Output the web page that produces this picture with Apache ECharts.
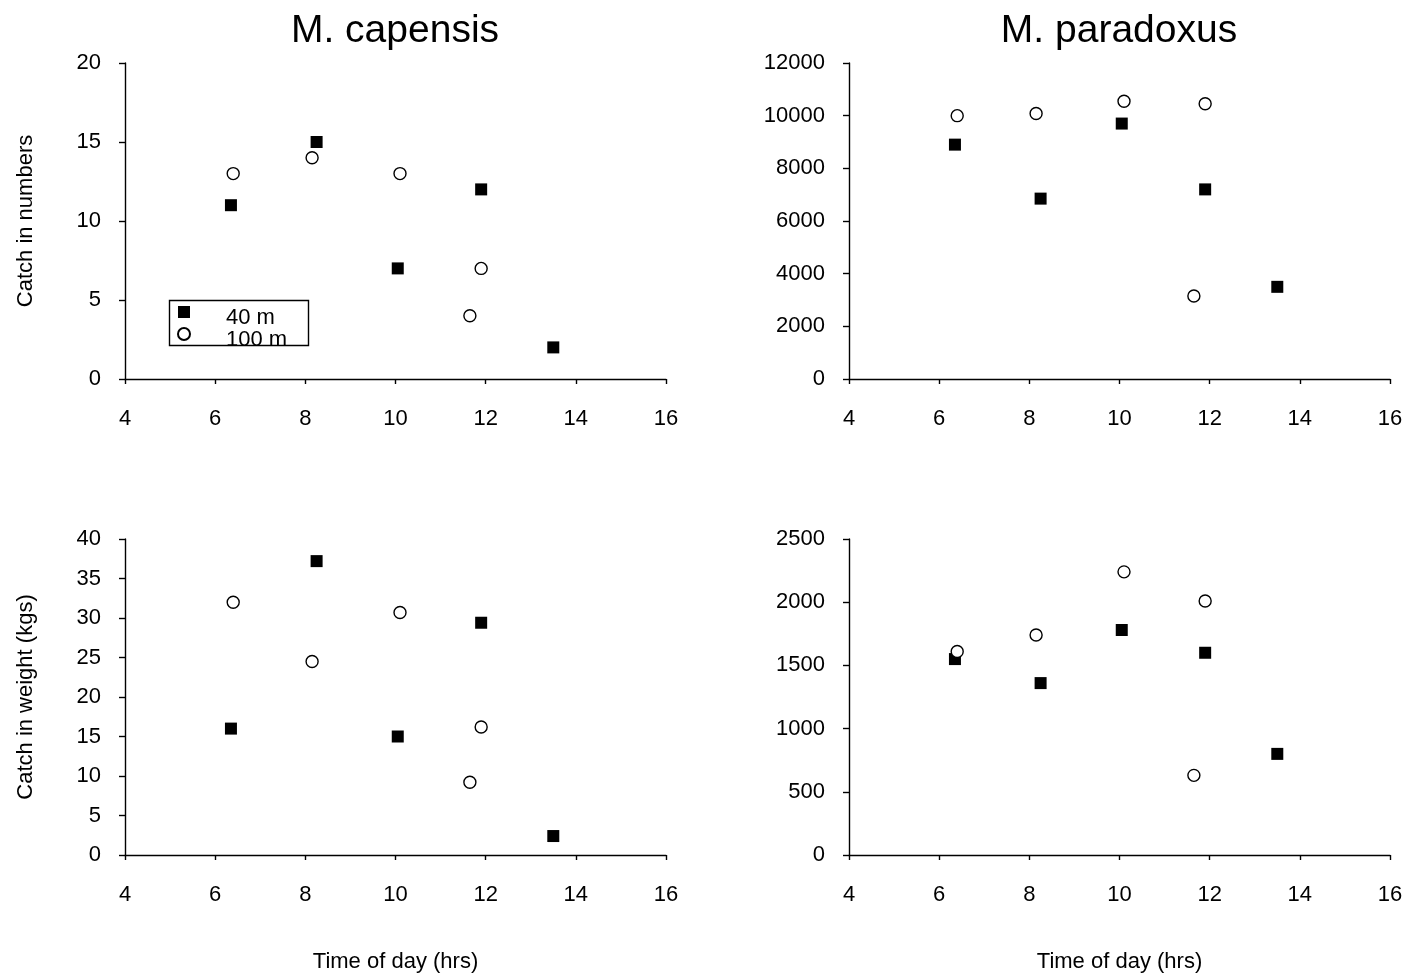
<!DOCTYPE html>
<html>
<head>
<meta charset="utf-8">
<script src="https://cdn.jsdelivr.net/npm/echarts@6/dist/echarts.min.js"></script>
<style>
  html, body { margin: 0; padding: 0; background: #fff; }
  #chart { width: 1409px; height: 978px; }
</style>
</head>
<body>
<div id="chart"></div>
<script>
// hours of the tows, 40 m (squares) and 100 m (circles)
const time40 = [6.35, 8.25, 10.05, 11.9, 13.5]
const time100 = [6.4, 8.15, 10.1, 11.65, 11.9]

// M. capensis
const capNum40 = [11, 15, 7, 12, 2]
const capNum100 = [13, 14, 13, 4, 7]
const capWt40 = [16, 37.2, 15, 29.4, 2.4]
const capWt100 = [32, 24.5, 30.7, 9.2, 16.2]

// M. paradoxus
const parNum40 = [8900, 6850, 9700, 7200, 3500]
const parNum100 = [10000, 10080, 10550, 3150, 10450]
const parWt40 = [1550, 1360, 1780, 1600, 800]
const parWt100 = [1610, 1740, 2240, 630, 2010]

const titles = ['M. capensis', 'M. paradoxus']
const yNames = ['Catch in numbers', '', 'Catch in weight (kgs)', '']
const xName = 'Time of day (hrs)'
const yMax = [20, 12000, 40, 2500]
const yStep = [5, 2000, 5, 500]

const font = "'Liberation Sans', Arial, sans-serif"

const pair = (xs, ys) => xs.map((x, i) => [x, ys[i]])

const grids = [
    {left: 125, top: 63, width: 541, height: 316},
    {left: 849, top: 63, width: 541, height: 316},
    {left: 125, top: 539, width: 541, height: 316},
    {left: 849, top: 539, width: 541, height: 316}
]

const axisLine = {show: true, lineStyle: {color: '#000', width: 1.4}}

const xAxes = grids.map((g, i) => ({
    type: 'value',
    gridIndex: i,
    min: 4,
    max: 16,
    interval: 2,
    axisLine: axisLine,
    axisTick: {show: true, length: 5, lineStyle: {color: '#000', width: 1.4}},
    axisLabel: {color: '#000', fontSize: 22, fontFamily: font, margin: 29},
    splitLine: {show: false},
    name: i >= 2 ? xName : '',
    nameLocation: 'middle',
    nameGap: 96,
    nameTextStyle: {color: '#000', fontSize: 22, fontFamily: font}
}))

const yAxes = grids.map((g, i) => ({
    type: 'value',
    gridIndex: i,
    min: 0,
    max: yMax[i],
    interval: yStep[i],
    axisLine: axisLine,
    axisTick: {show: true, length: 6, lineStyle: {color: '#000', width: 1.4}},
    axisLabel: {color: '#000', fontSize: 22, fontFamily: font, margin: 24, formatter: v => String(v)},
    splitLine: {show: false},
    name: yNames[i],
    nameLocation: 'middle',
    nameGap: 88,
    nameTextStyle: {color: '#000', fontSize: 22, fontFamily: font}
}))

const square = {symbol: 'rect', symbolSize: 12, itemStyle: {color: '#000', opacity: 1}}
const circle = {symbol: 'circle', symbolSize: 12, itemStyle: {color: '#fff', borderColor: '#000', borderWidth: 1.4, opacity: 1}}

const panels = [
    [capNum40, capNum100],
    [parNum40, parNum100],
    [capWt40, capWt100],
    [parWt40, parWt100]
]

const series = []
panels.forEach((p, i) => {
    series.push(Object.assign({type: 'scatter', name: '40 m', xAxisIndex: i, yAxisIndex: i, data: pair(time40, p[0])}, square))
    series.push(Object.assign({type: 'scatter', name: '100 m', xAxisIndex: i, yAxisIndex: i, data: pair(time100, p[1])}, circle))
})

const option = {
    backgroundColor: '#fff',
    animation: false,
    textStyle: {fontFamily: font},
    title: [
        {text: titles[0], left: 395, top: 12, textAlign: 'center', padding: 0,
            textStyle: {color: '#000', fontSize: 39, fontWeight: 'normal', fontFamily: font}},
        {text: titles[1], left: 1119, top: 12, textAlign: 'center', padding: 0,
            textStyle: {color: '#000', fontSize: 39, fontWeight: 'normal', fontFamily: font}}
    ],
    legend: {
        data: ['40 m', '100 m'],
        orient: 'vertical',
        left: 177,
        top: 295,
        padding: 0,
        itemGap: -12,
        itemWidth: 12,
        itemHeight: 12,
        selectedMode: false,
        formatter: name => '{t|' + name + '}',
        textStyle: {
            color: '#000', fontSize: 22, fontFamily: font, lineHeight: 23,
            rich: {t: {color: '#000', fontSize: 22, fontFamily: font, lineHeight: 23, padding: [12, 0, 0, 31]}}
        }
    },
    graphic: [
        {type: 'rect', shape: {x: 169.5, y: 300.5, width: 139, height: 45}, style: {fill: null, stroke: '#000', lineWidth: 1.4}, z: 100}
    ],
    grid: grids,
    xAxis: xAxes,
    yAxis: yAxes,
    series: series
}

echarts.init(document.getElementById('chart')).setOption(option)
</script>
</body>
</html>
